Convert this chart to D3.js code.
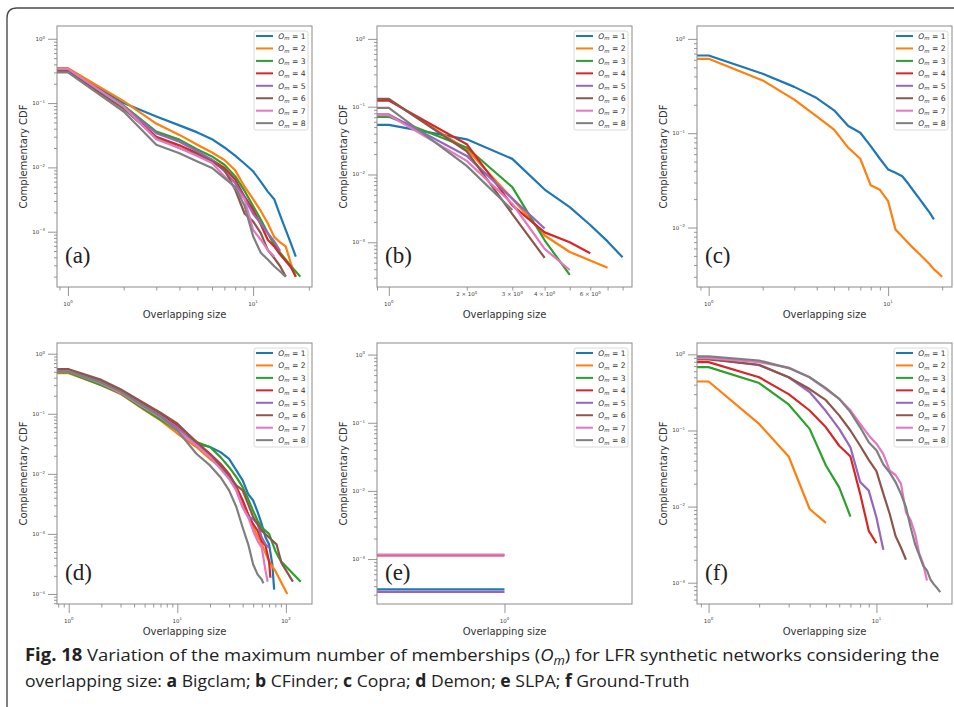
<!DOCTYPE html>
<html>
<head>
<meta charset="utf-8">
<script src="https://cdn.jsdelivr.net/npm/d3@7"></script>
<style>
  body { margin: 0; background: #fff; }
  svg { display: block; }
</style>
</head>
<body>
<svg id="fig" width="954" height="707"></svg>
<script>
(function(){
/* ===================== DATA ===================== */
const COLORS = ["#1f77b4","#ff7f0e","#2ca02c","#d62728","#9467bd","#8c564b","#e377c2","#7f7f7f"];
const OM_LABELS = ["1","2","3","4","5","6","7","8"];

// (a) Bigclam – CCDF for overlapping size 1, 2, 3, ...
const A_OM1 = [0.34,0.10,0.062,0.045,0.035,0.0275,0.0204,0.0152,0.0114,0.0087,0.006,0.0042,0.0032,0.0018,0.00107,0.00066,0.00041];
const A_OM2 = [0.35,0.107,0.048,0.032,0.0225,0.017,0.013,0.009,0.005,0.0032,0.0021,0.00135,0.00083,0.00068,0.00059,0.00032,0.0002];
const A_OM3 = [0.32,0.091,0.036,0.027,0.019,0.0148,0.011,0.0073,0.0043,0.0025,0.00155,0.00095,0.00063,0.00047,0.00037,0.00029,0.00024,0.0002];
const A_OM4 = [0.33,0.087,0.030,0.022,0.0166,0.0131,0.0098,0.0065,0.0035,0.0022,0.00129,0.00075,0.00059,0.00044,0.00035,0.00028,0.0002];
const A_OM5 = [0.34,0.087,0.034,0.025,0.0178,0.0131,0.0087,0.0057,0.0033,0.0019,0.00135,0.00095,0.00071,0.0005];
const A_OM6 = [0.31,0.082,0.029,0.020,0.0158,0.0124,0.0092,0.0045,0.0019,0.00145,0.00095,0.00052,0.00039,0.00029,0.0002];
const A_OM7 = [0.34,0.088,0.0275,0.020,0.015,0.0117,0.0073,0.0048,0.0032,0.00107,0.00075,0.00052,0.00041];
const A_OM8 = [0.30,0.074,0.0225,0.0166,0.0124,0.0098,0.0068,0.0050,0.0025,0.00085,0.00047,0.00037,0.00029,0.00024,0.0002];

// (b) CFinder
const B_OM1 = [0.054,0.033,0.017,0.006,0.0033,0.0018,0.00103,0.0006];
const B_OM2 = [0.127,0.0235,0.0044,0.00126,0.00072,0.00054,0.00042];
const B_OM3 = [0.071,0.025,0.0065,0.00107,0.00033];
const B_OM4 = [0.123,0.028,0.0035,0.0014,0.001,0.00069];
const B_OM5 = [0.077,0.0188,0.0044,0.0016];
const B_OM6 = [0.130,0.022,0.0026,0.00059];
const B_OM7 = [0.075,0.0159,0.0037,0.0008,0.00039];
const B_OM8 = [0.096,0.0134,0.0030];

// (c) Copra
const C_OM1 = [0.667,0.427,0.31,0.236,0.175,0.119,0.101,0.073,0.0536,0.0413,0.038,0.035,0.0289,0.0238,0.02,0.0169,0.0145,0.0122];
const C_OM2 = [0.615,0.363,0.227,0.151,0.109,0.070,0.0536,0.028,0.0251,0.019,0.0095,0.008,0.0068,0.0059,0.0052,0.0046,0.0041,0.0036,0.0033,0.0030];

// (d) Demon – [overlapping size, CCDF]
const D_OM1 = [[1,0.487],[2,0.31],[3,0.22],[5,0.123],[7,0.083],[10,0.053],[15,0.0318],[20,0.028],[25,0.023],[30,0.0178],[35,0.0114],[40,0.0078],[45,0.0046],[50,0.0036],[55,0.0023],[60,0.00145],[65,0.00087],[70,0.00067],[75,0.00031],[78,0.000118]];
const D_OM2 = [[1,0.474],[2,0.30],[3,0.214],[5,0.115],[7,0.078],[10,0.047],[15,0.028],[20,0.0178],[25,0.0129],[30,0.0088],[35,0.006],[40,0.0036],[45,0.0021],[50,0.00128],[60,0.00067],[70,0.00035],[80,0.00024],[103,0.0001]];
const D_OM3 = [[1,0.49],[2,0.30],[3,0.22],[5,0.118],[7,0.080],[10,0.053],[15,0.034],[20,0.028],[25,0.019],[30,0.0129],[35,0.0088],[40,0.006],[45,0.0038],[50,0.0024],[55,0.00165],[60,0.00128],[70,0.001],[80,0.00052],[90,0.00035],[110,0.00024],[137,0.00016]];
const D_OM4 = [[1,0.54],[2,0.34],[3,0.25],[5,0.145],[7,0.101],[10,0.065],[15,0.034],[20,0.0216],[25,0.0147],[30,0.01],[35,0.006],[40,0.0036],[45,0.0021],[50,0.00145],[55,0.00112],[60,0.00076],[65,0.00063],[70,0.00035],[72,0.000186]];
const D_OM5 = [[1,0.526],[2,0.335],[3,0.234],[5,0.134],[7,0.0925],[10,0.059],[15,0.030],[20,0.0204],[25,0.0138],[30,0.0088],[35,0.0053],[40,0.0028],[45,0.0019],[50,0.00178],[55,0.00145],[60,0.00087],[65,0.00067],[70,0.00059]];
const D_OM6 = [[1,0.553],[2,0.367],[3,0.256],[5,0.149],[7,0.104],[10,0.069],[15,0.034],[20,0.0204],[25,0.0138],[30,0.0094],[35,0.0064],[40,0.0053],[45,0.0031],[50,0.0019],[60,0.00112],[70,0.00087],[82,0.00067],[91,0.00033],[116,0.00016]];
const D_OM7 = [[1,0.506],[2,0.32],[3,0.225],[5,0.126],[7,0.087],[10,0.053],[15,0.030],[20,0.019],[25,0.0121],[30,0.0082],[35,0.0053],[40,0.0028],[45,0.0019],[50,0.00112],[55,0.00076],[60,0.00059],[65,0.00024],[68,0.00016]];
const D_OM8 = [[1,0.506],[2,0.33],[3,0.234],[5,0.131],[7,0.091],[10,0.053],[15,0.0216],[20,0.0138],[25,0.0088],[30,0.0053],[35,0.0028],[40,0.00128],[45,0.00067],[50,0.00031],[55,0.00021],[60,0.000174],[62,0.00015]];

// (e) SLPA – single overlapping size
const E_OM1 = [0.00036];
const E_OM4 = [0.00113];
const E_OM5 = [0.00033];
const E_OM7 = [0.00116];

// (f) Ground-Truth
const F_OM2 = [0.44,0.122,0.0455,0.0093,0.0061];
const F_OM3 = [0.68,0.42,0.22,0.105,0.0347,0.0179,0.0074];
const F_OM4 = [0.79,0.50,0.30,0.183,0.11,0.063,0.0455,0.0147,0.0048,0.0033];
const F_OM5 = [0.88,0.72,0.50,0.32,0.18,0.105,0.060,0.021,0.0162,0.0072,0.0027];
const F_OM6 = [0.86,0.73,0.50,0.35,0.25,0.158,0.10,0.063,0.041,0.0292,0.0147,0.008,0.0041,0.0029,0.002];
const F_OM7 = [0.89,0.79,0.67,0.50,0.35,0.26,0.184,0.122,0.086,0.067,0.049,0.0297,0.026,0.020,0.0084,0.0066,0.0044,0.0024,0.00176,0.00107];
const F_OM8 = [0.94,0.83,0.66,0.50,0.36,0.26,0.174,0.11,0.070,0.055,0.0357,0.028,0.021,0.0147,0.0098,0.0053,0.0032,0.0023,0.00167,0.00145,0.0011,0.00095,0.00085,0.00075];

// axis ranges
const A_XDOM = [0.873, 20.8],  A_YDOM = [1.38e-4, 1.58];
const B_XDOM = [0.90, 8.7],    B_YDOM = [2.19e-4, 1.55];
const C_XDOM = [0.861, 22.7],  C_YDOM = [2.34e-3, 1.37];
const D_XDOM = [0.78, 174],    D_YDOM = [6.8e-5, 1.51];
const E_XDOM = [0.905, 1.105], E_YDOM = [2.19e-4, 1.48];
const F_XDOM = [0.853, 28.2],  F_YDOM = [5.25e-4, 1.41];

const B_MINOR_LABELS = [2, 3, 4, 6];
const PANEL_TAGS = ["(a)","(b)","(c)","(d)","(e)","(f)"];

/* ===================== HELPERS ===================== */
const seq = arr => arr ? arr.map((v,i) => [i+1, v]) : [];

const PANELS = [
  { tag:PANEL_TAGS[0], col:0, row:0, xd:A_XDOM, yd:A_YDOM,
    series:[A_OM1,A_OM2,A_OM3,A_OM4,A_OM5,A_OM6,A_OM7,A_OM8].map(seq) },
  { tag:PANEL_TAGS[1], col:1, row:0, xd:B_XDOM, yd:B_YDOM, minorLabels:B_MINOR_LABELS,
    series:[B_OM1,B_OM2,B_OM3,B_OM4,B_OM5,B_OM6,B_OM7,B_OM8].map(seq) },
  { tag:PANEL_TAGS[2], col:2, row:0, xd:C_XDOM, yd:C_YDOM,
    series:[C_OM1,C_OM2,null,null,null,null,null,null].map(seq) },
  { tag:PANEL_TAGS[3], col:0, row:1, xd:D_XDOM, yd:D_YDOM,
    series:[D_OM1,D_OM2,D_OM3,D_OM4,D_OM5,D_OM6,D_OM7,D_OM8] },
  { tag:PANEL_TAGS[4], col:1, row:1, xd:E_XDOM, yd:E_YDOM, noXMinor:true,
    series:[E_OM1,null,null,E_OM4,E_OM5,null,E_OM7,null].map(seq) },
  { tag:PANEL_TAGS[5], col:2, row:1, xd:F_XDOM, yd:F_YDOM,
    series:[null,F_OM2,F_OM3,F_OM4,F_OM5,F_OM6,F_OM7,F_OM8].map(seq) }
];

function logTicks(dom){
  const majors = [], minors = [];
  const e0 = Math.floor(Math.log10(dom[0])), e1 = Math.ceil(Math.log10(dom[1]));
  for (let e = e0; e <= e1; e++){
    for (let k = 1; k < 10; k++){
      const v = k * Math.pow(10, e);
      if (v < dom[0] || v > dom[1]) continue;
      (k === 1 ? majors : minors).push(v);
    }
  }
  return { majors, minors };
}
const expOf = v => { const e = Math.round(Math.log10(v)); return e < 0 ? "\u2212" + (-e) : String(e); };

function powLabel(sel, prefix, v){
  sel.append("tspan").text(prefix + "10");
  sel.append("tspan").attr("dy", -2.2).attr("font-size", 3.9).text(expOf(v));
}

/* ===================== LAYOUT ===================== */
const svg = d3.select("#fig");
const COL_X = [57, 377, 697], ROW_Y = [26, 343];
const PW = 255, PH = 261;
const AXIS_C = "#8a8a8a", LABEL_C = "#444";
const FONT = "'DejaVu Sans', sans-serif";

// page frame
svg.append("path")
  .attr("d", "M7,707 L7,18 Q7,8 17,8 L954,8")
  .attr("fill", "none").attr("stroke", "#4a4a4a").attr("stroke-width", 1.4);

const defs = svg.append("defs");

PANELS.forEach((p, pi) => {
  const L = COL_X[p.col], T = ROW_Y[p.row];
  const g = svg.append("g").attr("transform", `translate(${L},${T})`);
  const x = d3.scaleLog().domain(p.xd).range([0, PW]);
  const y = d3.scaleLog().domain(p.yd).range([PH, 0]);

  defs.append("clipPath").attr("id", "clip" + pi)
    .append("rect").attr("width", PW).attr("height", PH);

  // series (flat start from left edge, as drawn in the original)
  const line = d3.line().x(d => x(d[0])).y(d => y(d[1]));
  const plot = g.append("g").attr("clip-path", `url(#clip${pi})`);
  p.series.forEach((s, i) => {
    if (!s || !s.length) return;
    const pts = [[p.xd[0], s[0][1]]].concat(s);
    plot.append("path").attr("d", line(pts))
      .attr("fill", "none").attr("stroke", COLORS[i])
      .attr("stroke-width", 2.2).attr("stroke-linejoin", "round");
  });

  // frame
  g.append("rect").attr("width", PW).attr("height", PH)
    .attr("fill", "none").attr("stroke", AXIS_C).attr("stroke-width", 1);

  // axes
  const xt = logTicks(p.xd), yt = logTicks(p.yd);
  const xMinor = p.noXMinor ? [] : xt.minors;

  const styleAxis = ax => {
    ax.select(".domain").remove();
    ax.selectAll("line").attr("stroke", AXIS_C).attr("stroke-width", 0.9);
  };
  g.append("g").attr("transform", `translate(0,${PH})`)
    .call(d3.axisBottom(x).tickValues(xt.majors).tickSize(9).tickFormat("")).call(styleAxis);
  g.append("g").attr("transform", `translate(0,${PH})`)
    .call(d3.axisBottom(x).tickValues(xMinor).tickSize(3.5).tickFormat("")).call(styleAxis);
  g.append("g")
    .call(d3.axisLeft(y).tickValues(yt.majors).tickSize(9).tickFormat("")).call(styleAxis);
  g.append("g")
    .call(d3.axisLeft(y).tickValues(yt.minors).tickSize(3).tickFormat("")).call(styleAxis);

  // tick labels
  xt.majors.forEach(v => {
    const t = g.append("text").attr("x", x(v)).attr("y", PH + 18.5)
      .attr("text-anchor", "middle").attr("font-family", FONT)
      .attr("font-size", 5.5).attr("fill", LABEL_C);
    powLabel(t, "", v);
  });
  (p.minorLabels || []).forEach(k => {
    const t = g.append("text").attr("x", x(k)).attr("y", PH + 9)
      .attr("text-anchor", "middle").attr("font-family", FONT)
      .attr("font-size", 5.5).attr("fill", LABEL_C);
    powLabel(t, k + " \u00d7 ", 1);
  });
  yt.majors.forEach(v => {
    const t = g.append("text").attr("x", -12).attr("y", y(v) + 2)
      .attr("text-anchor", "end").attr("font-family", FONT)
      .attr("font-size", 5.5).attr("fill", LABEL_C);
    powLabel(t, "", v);
  });

  // axis titles
  g.append("text").attr("x", PW / 2).attr("y", PH + 31)
    .attr("text-anchor", "middle").attr("font-family", FONT)
    .attr("font-size", 10).attr("fill", "#333").text("Overlapping size");
  g.append("text").attr("transform", `translate(-30,${PH / 2}) rotate(-90)`)
    .attr("text-anchor", "middle").attr("font-family", FONT)
    .attr("font-size", 10).attr("fill", "#333").text("Complementary CDF");

  // panel tag
  g.append("text").attr("x", 8).attr("y", PH - 24)
    .attr("font-family", "'Liberation Serif', serif").attr("font-size", 23)
    .attr("fill", "#222").text(p.tag);

  // legend
  const lg = g.append("g").attr("transform", `translate(${PW - 58},5)`);
  lg.append("rect").attr("width", 54).attr("height", 99).attr("rx", 2)
    .attr("fill", "#fff").attr("fill-opacity", 0.85)
    .attr("stroke", "#d0d0d0").attr("stroke-width", 0.8);
  OM_LABELS.forEach((lab, i) => {
    const cy = 5 + i * 12.45;
    lg.append("line").attr("x1", 2).attr("x2", 19).attr("y1", cy).attr("y2", cy)
      .attr("stroke", COLORS[i]).attr("stroke-width", 2);
    const t = lg.append("text").attr("x", 24.3).attr("y", cy + 2.8)
      .attr("font-family", FONT).attr("font-size", 7.6).attr("fill", "#333");
    t.append("tspan").attr("font-style", "italic").text("O");
    t.append("tspan").attr("font-style", "italic").attr("font-size", 5.4).attr("dy", 1.6).text("m");
    t.append("tspan").attr("dy", -1.6).text(" = " + lab);
  });
});

/* ===================== CAPTION ===================== */
// condensed look: natural text squeezed horizontally to the measured line width
const CAP_FONT = "'Open Sans', 'Noto Sans', sans-serif";
function captionLine(yPos, parts, target){
  const t = svg.append("text").attr("x", 0).attr("y", 0)
    .attr("font-family", CAP_FONT).attr("font-size", 17).attr("fill", "#222");
  parts.forEach(pt => {
    const s = t.append("tspan").text(pt.t);
    if (pt.b) s.attr("font-weight", "bold");
    if (pt.i) s.attr("font-style", "italic");
    if (pt.sub) s.attr("font-size", 12).attr("dy", 3.5);
    if (pt.up) s.attr("dy", -3.5);
  });
  const w = t.node().getComputedTextLength();
  t.attr("transform", `translate(25,${yPos}) scale(${target / w},1)`);
}
captionLine(661, [
  {t:"Fig. 18", b:true},
  {t:"  Variation of the maximum number of memberships ("},
  {t:"O", i:true}, {t:"m", i:true, sub:true},
  {t:") for LFR synthetic networks considering the", up:true}
], 915);
captionLine(687, [
  {t:"overlapping size: "}, {t:"a", b:true}, {t:" Bigclam; "},
  {t:"b", b:true}, {t:" CFinder; "}, {t:"c", b:true}, {t:" Copra; "},
  {t:"d", b:true}, {t:" Demon; "}, {t:"e", b:true}, {t:" SLPA; "},
  {t:"f", b:true}, {t:" Ground-Truth"}
], 665);
})();
</script>
</body>
</html>
